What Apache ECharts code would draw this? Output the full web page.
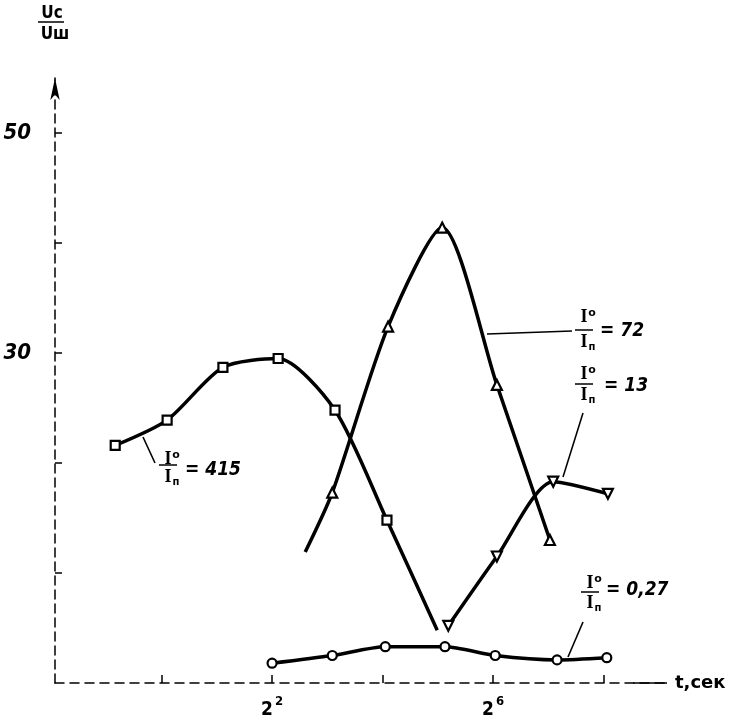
<!DOCTYPE html>
<html><head><meta charset="utf-8">
<script src="https://cdn.jsdelivr.net/npm/echarts@6/dist/echarts.min.js"></script>
<style>html,body{margin:0;padding:0;background:#fff}#c{width:741px;height:723px}</style>
</head><body><div id="c"></div>
<script>
// x = log2(t), t in seconds; y = Uc/Uш
const s415X = [-0.84, 0.10, 1.11, 2.11, 3.14, 4.08, 4.99];
const s415Y = [21.6, 23.9, 28.7, 29.5, 24.8, 14.8, 4.8];
const s72X = [2.60, 3.09, 4.10, 5.08, 6.07, 7.03];
const s72Y = [11.9, 17.3, 32.4, 41.4, 27.1, 13.0];
const s13X = [5.19, 6.07, 7.09, 8.08];
const s13Y = [5.2, 11.5, 18.3, 17.2];
const s027X = [2.0, 3.09, 4.05, 5.13, 6.04, 7.16, 8.06];
const s027Y = [1.8, 2.5, 3.3, 3.3, 2.5, 2.1, 2.3];
const xTickExp = [0, 2, 4, 6, 8];
const xLabelExp = [2, 6];
const yTickVals = [10, 20, 30, 40, 50];
const yLabels = [30, 50];
const ratioLabels = ['415', '72', '13', '0,27'];

const NUM_FONT = '"DejaVu Sans Condensed","Liberation Sans Narrow","DejaVu Sans",sans-serif';

function pts(xs, ys, hidden) {
  return xs.map((x, i) => hidden && hidden.indexOf(i) >= 0
    ? { value: [x, ys[i]], symbol: 'none' } : { value: [x, ys[i]] });
}
function line(name, data, symbol, rotate, size) {
  return {
    name, type: 'line', data, smooth: 0.25, symbol, symbolRotate: rotate || 0,
    symbolSize: size || 9, showSymbol: true,
    lineStyle: { color: '#000', width: 3.5 },
    itemStyle: { color: '#fff', borderColor: '#000', borderWidth: 2.2 },
    z: 3
  };
}

const chart = echarts.init(document.getElementById('c'), null, { renderer: 'canvas' });

function frac(cx, yTop, yLine, yBot, label, lx, ly) {
  const f = 'bold 18px "Liberation Serif",serif';
  return [
    { type: 'text', style: { text: 'I', x: cx, y: yTop, font: f, fill: '#000', align: 'center', verticalAlign: 'middle' } },
    { type: 'text', style: { text: 'о', x: cx + 8, y: yTop - 4, font: 'bold 11px "DejaVu Sans",sans-serif', fill: '#000', align: 'center', verticalAlign: 'middle' } },
    { type: 'line', shape: { x1: cx - 9, y1: yLine, x2: cx + 9, y2: yLine }, style: { stroke: '#000', lineWidth: 1.5 } },
    { type: 'text', style: { text: 'I', x: cx, y: yBot, font: f, fill: '#000', align: 'center', verticalAlign: 'middle' } },
    { type: 'text', style: { text: 'п', x: cx + 8, y: yBot + 5, font: 'bold 10px "DejaVu Sans",sans-serif', fill: '#000', align: 'center', verticalAlign: 'middle' } },
    { type: 'text', style: { text: '= ' + label, x: lx, y: ly, font: 'italic bold 19px ' + NUM_FONT, fill: '#000', align: 'left', verticalAlign: 'middle' } }
  ];
}
function seg(x1, y1, x2, y2) {
  return { type: 'line', shape: { x1, y1, x2, y2 }, style: { stroke: '#000', lineWidth: 1.6 } };
}

const graphics = [].concat(
  [
    { type: 'text', style: { text: 'Uс', x: 52, y: 14, font: 'bold 17px "DejaVu Sans Condensed","DejaVu Sans",sans-serif', fill: '#000', align: 'center', verticalAlign: 'middle' } },
    { type: 'line', shape: { x1: 38, y1: 22, x2: 64, y2: 22 }, style: { stroke: '#000', lineWidth: 1.5 } },
    { type: 'text', style: { text: 'Uш', x: 55, y: 35, font: 'bold 17px "DejaVu Sans Condensed","DejaVu Sans",sans-serif', fill: '#000', align: 'center', verticalAlign: 'middle' } }
  ],
  frac(168, 459, 465, 477, ratioLabels[0], 185, 470),
  [seg(143, 437, 155, 463)],
  frac(584, 317, 330, 342, ratioLabels[1], 600, 331),
  [seg(487, 334, 572, 331)],
  frac(584, 374, 384, 395, ratioLabels[2], 604, 386),
  [seg(583, 413, 563, 477)],
  frac(590, 583, 592, 603, ratioLabels[3], 606, 590),
  [seg(583, 622, 568, 657)],
  [seg(633, 683, 667, 683)]
);

chart.setOption({
  backgroundColor: '#fff',
  animation: false,
  grid: { left: 55, right: 74, top: 78, bottom: 40 },
  xAxis: {
    type: 'value', min: -1.93, max: 9.15,
    name: 't,сек', nameLocation: 'end', nameGap: 8,
    nameTextStyle: { color: '#000', fontSize: 18, fontWeight: 'bold', fontFamily: '"DejaVu Sans",sans-serif', verticalAlign: 'middle' },
    axisLine: { show: true, onZero: false, lineStyle: { color: '#000', width: 1.5, type: [9, 6] } },
    axisTick: { show: true, inside: true, length: 8, customValues: xTickExp, lineStyle: { color: '#000', width: 1.5 } },
    axisLabel: {
      show: true, customValues: xLabelExp, margin: 12,
      formatter: v => '{b|2}{s|' + v + '}',
      rich: {
        b: { fontSize: 19, fontWeight: 'bold', color: '#000', fontFamily: NUM_FONT, verticalAlign: 'bottom', lineHeight: 22 },
        s: { fontSize: 13, fontWeight: 'bold', color: '#000', fontFamily: NUM_FONT, verticalAlign: 'top', padding: [0, 0, 12, 2] }
      }
    },
    splitLine: { show: false }
  },
  yAxis: {
    type: 'value', min: 0, max: 55, interval: 10,
    axisLine: { show: true, onZero: false, symbol: ['none', 'arrow'], symbolSize: [7, 22], lineStyle: { color: '#000', width: 1.5, type: [9, 5] } },
    axisTick: { show: true, inside: true, length: 7, customValues: yTickVals, lineStyle: { color: '#000', width: 1.5 } },
    axisLabel: {
      show: true, margin: 24, color: '#000', fontSize: 22, fontWeight: 'bold', fontStyle: 'italic', fontFamily: NUM_FONT,
      customValues: yLabels,
      formatter: v => String(v)
    },
    splitLine: { show: false }
  },
  series: [
    line('415', pts(s415X, s415Y, [6]), 'rect', 0, 9),
    line('72', pts(s72X, s72Y, [0]), 'triangle', 0, 10),
    line('13', pts(s13X, s13Y), 'triangle', 180, 10),
    line('0,27', pts(s027X, s027Y), 'circle', 0, 9)
  ],
  graphic: graphics
});
</script></body></html>
